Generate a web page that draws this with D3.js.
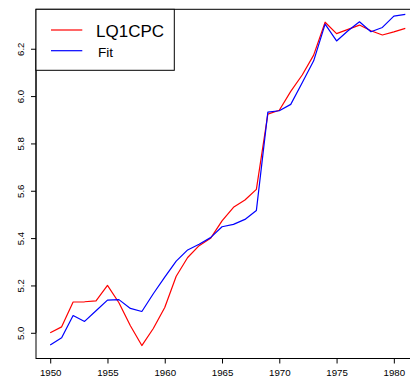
<!DOCTYPE html>
<html>
<head>
<meta charset="utf-8">
<script src="https://cdn.jsdelivr.net/npm/d3@7/dist/d3.min.js"></script>
<style>
  html, body { margin: 0; padding: 0; background: #fff; overflow: hidden; }
  svg { display: block; font-family: "Liberation Sans", Arial, Helvetica, sans-serif; }
</style>
</head>
<body>
<svg id="chart" width="410" height="378"></svg>
<script>
// Annual series and fitted values
const years = d3.range(1950, 1982);
const lq1cpc = [
  5.000, 5.025, 5.130, 5.131, 5.135, 5.200, 5.127, 5.030, 4.946, 5.018,
  5.107, 5.239, 5.318, 5.368, 5.399, 5.473, 5.530, 5.561, 5.606, 5.924,
  5.940, 6.020, 6.089, 6.173, 6.312, 6.264, 6.282, 6.300, 6.276, 6.258,
  6.271, 6.286
];
const fit = [
  4.948, 4.979, 5.073, 5.048, 5.093, 5.138, 5.140, 5.103, 5.090, 5.165,
  5.235, 5.303, 5.350, 5.374, 5.402, 5.448, 5.458, 5.479, 5.517, 5.932,
  5.938, 5.965, 6.056, 6.149, 6.304, 6.233, 6.276, 6.314, 6.272, 6.290,
  6.338, 6.345
];
const xTicks = [1950, 1955, 1960, 1965, 1970, 1975, 1980];
const yTicks = [5.0, 5.2, 5.4, 5.6, 5.8, 6.0, 6.2];
const seriesNames = ["LQ1CPC", "Fit"];
const seriesColors = ["#ff0000", "#0000ff"];

const svg = d3.select("#chart");
const plot = { left: 36, right: 419.5, top: 9.3, bottom: 358.5 };

// Ranges padded by 4% on each side; y range taken from the first series
const xExt = d3.extent(years);
const xPad = 0.04 * (xExt[1] - xExt[0]);
const yExt = d3.extent(lq1cpc);
const yPad = 0.04 * (yExt[1] - yExt[0]);

const x = d3.scaleLinear().domain([xExt[0] - xPad, xExt[1] + xPad]).range([plot.left, plot.right]);
const y = d3.scaleLinear().domain([yExt[0] - yPad, yExt[1] + yPad]).range([plot.bottom, plot.top]);

// Series lines
const line = d3.line().x((d, i) => x(years[i])).y(d => y(d));
[lq1cpc, fit].forEach((vals, k) => {
  svg.append("path")
    .datum(vals)
    .attr("d", line)
    .attr("fill", "none")
    .attr("stroke", seriesColors[k])
    .attr("stroke-width", 1.2)
    .attr("stroke-linejoin", "round");
});

// Plot frame
svg.append("rect")
  .attr("x", plot.left).attr("y", plot.top)
  .attr("width", plot.right - plot.left).attr("height", plot.bottom - plot.top)
  .attr("fill", "none").attr("stroke", "#000").attr("stroke-width", 1);

// Bottom axis
const gx = svg.append("g")
  .attr("transform", `translate(0,${plot.bottom})`)
  .call(d3.axisBottom(x).tickValues(xTicks).tickFormat(d3.format("d"))
    .tickSize(5).tickPadding(5.2));
gx.select(".domain").remove();
gx.append("line")
  .attr("x1", x(xTicks[0])).attr("x2", x(xTicks[xTicks.length - 1]))
  .attr("stroke", "#000");
gx.selectAll("text").attr("font-size", 9.7).attr("fill", "#000");
gx.attr("font-family", null);

// Left axis with rotated labels
const gy = svg.append("g")
  .attr("transform", `translate(${plot.left},0)`)
  .call(d3.axisLeft(y).tickValues(yTicks).tickFormat(d3.format(".1f")).tickSize(5));
gy.select(".domain").remove();
gy.append("line")
  .attr("y1", y(yTicks[0])).attr("y2", y(yTicks[yTicks.length - 1]))
  .attr("stroke", "#000");
gy.selectAll("text")
  .attr("x", null).attr("dy", null)
  .attr("transform", "translate(-11.7,0) rotate(-90)")
  .attr("text-anchor", "middle")
  .attr("font-size", 9.6)
  .attr("fill", "#000");
gy.attr("font-family", null);

// Legend
const legend = svg.append("g");
legend.append("rect")
  .attr("x", plot.left).attr("y", plot.top)
  .attr("width", 174.3 - plot.left).attr("height", 70.3 - plot.top)
  .attr("fill", "#fff").attr("stroke", "#000").attr("stroke-width", 1);
const legendRows = [
  { lineY: 30, textX: 96, baseY: 36.6, size: 17 },
  { lineY: 50.7, textX: 98, baseY: 57.2, size: 13.6 }
];
legendRows.forEach((r, k) => {
  legend.append("line")
    .attr("x1", 51).attr("x2", 82.3)
    .attr("y1", r.lineY).attr("y2", r.lineY)
    .attr("stroke", seriesColors[k]).attr("stroke-width", 1.2);
  legend.append("text")
    .attr("x", r.textX).attr("y", r.baseY)
    .attr("font-size", r.size)
    .attr("fill", "#000")
    .text(seriesNames[k]);
});
</script>
</body>
</html>
